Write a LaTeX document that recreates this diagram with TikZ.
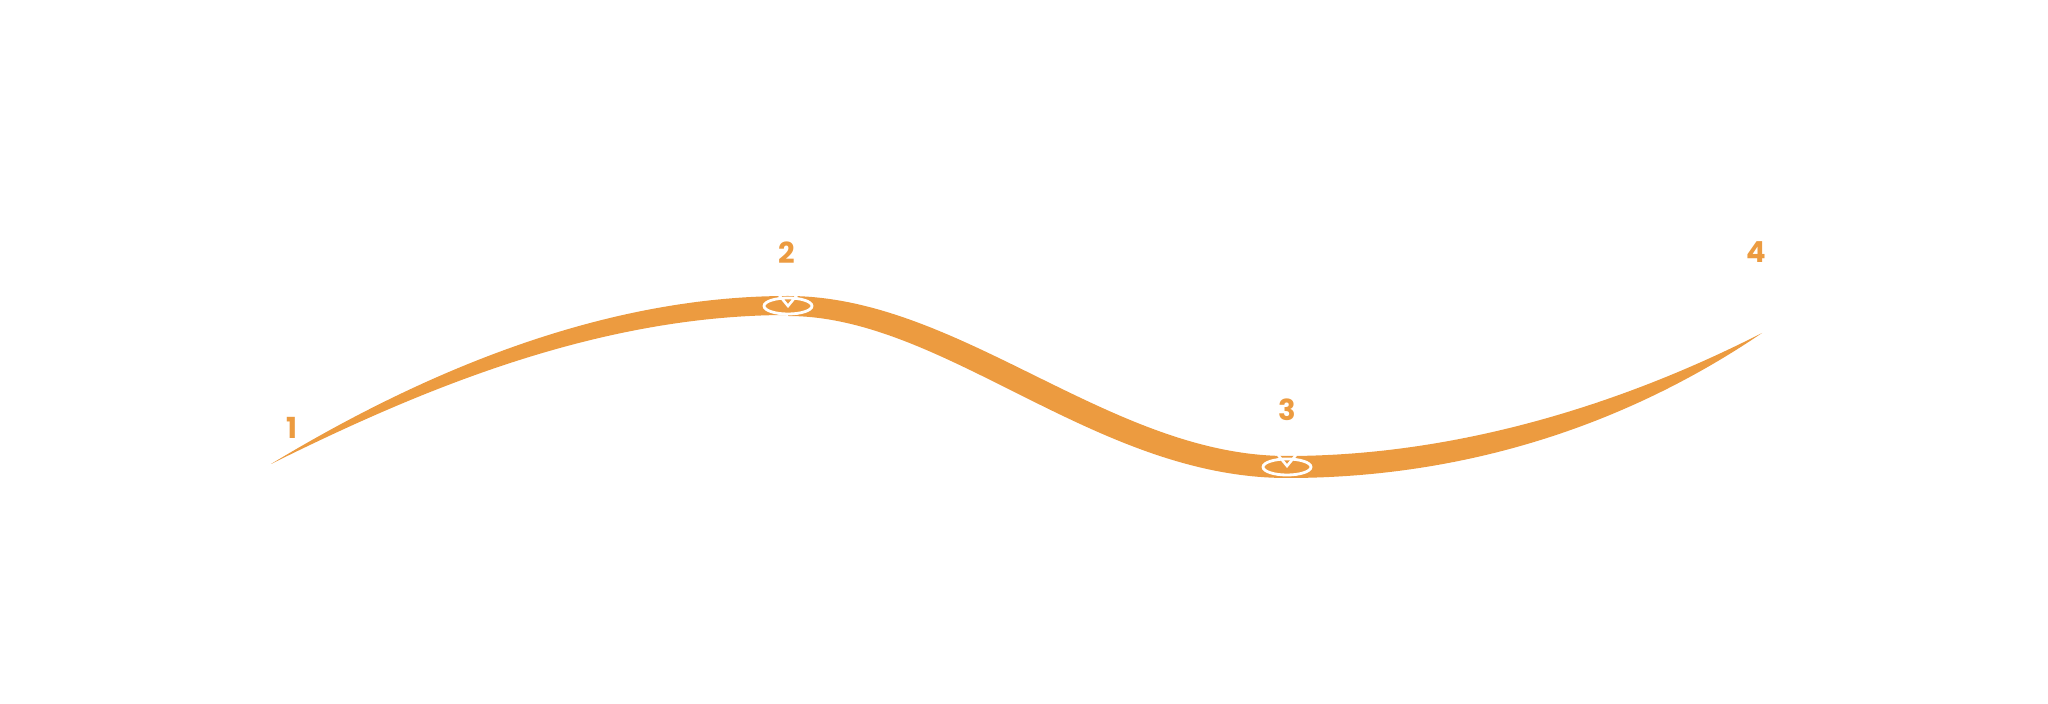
\documentclass[tikz,border=0pt]{standalone}
\usepackage{fontspec}
\setmainfont{Poppins}
\usetikzlibrary{shapes.geometric}
\definecolor{orng}{RGB}{236,155,64}
\begin{document}
\begin{tikzpicture}[x=0.5pt,y=-0.5pt,
  lbl/.style={text=orng,font=\bfseries\fontsize{14.5}{16}\selectfont,inner sep=0pt},
  ribbon/.style={fill=orng,draw=none},
  ring/.style={draw=white,line width=1.4pt,fill=orng},
  notch/.style={draw=white,line width=1.3pt,line join=miter}]
\useasboundingbox (0,0) rectangle (2048,704);
% key points
\coordinate (s) at (271,464);
\coordinate (e2) at (788,306);
\coordinate (e3) at (1287,467);
\coordinate (t) at (1762,333);
% segment 1 (tapering)
\fill[ribbon] (s) .. controls (420,374) and (600,296) .. (788,296)
   -- (788,315) .. controls (600,315) and (424,388) .. (s) -- cycle;
% segment 2 (S curve)
\fill[ribbon] (788,296) .. controls (960,296) and (1110,456) .. (1287,456)
   -- (1287,478) .. controls (1095,478) and (945,316) .. (788,316) -- cycle;
% segment 3 (tapering)
\fill[ribbon] (1287,456) .. controls (1450,456) and (1615,408) .. (t)
   -- (t) .. controls (1622,428) and (1460,478) .. (1287,478) -- cycle;
% markers
\node[ring,ellipse,minimum width=24pt,minimum height=8pt,inner sep=0pt] (m2) at (e2) {};
\draw[notch] (779,295) -- (788,306) -- (797,295);
\node[ring,ellipse,minimum width=24pt,minimum height=8pt,inner sep=0pt] (m3) at (e3) {};
\draw[notch] (1278,455) -- (1287,466) -- (1296,455);
% labels
\node[lbl] (l1) at (292,428) {1};
\node[lbl] (l2) at (787,253) {2};
\node[lbl] (l3) at (1287,410) {3};
\node[lbl] (l4) at (1756,252) {4};
\end{tikzpicture}
\end{document}
